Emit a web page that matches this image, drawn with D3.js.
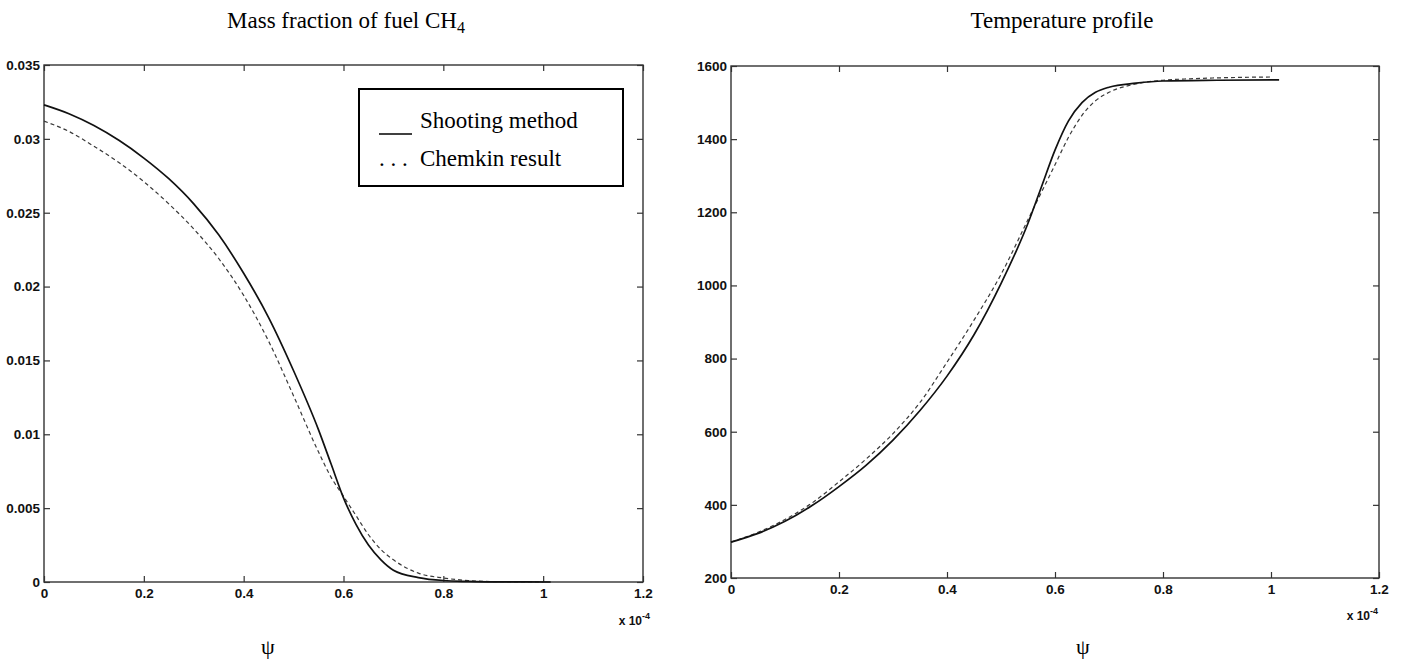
<!DOCTYPE html>
<html>
<head>
<meta charset="utf-8">
<script src="https://cdn.jsdelivr.net/npm/d3@7"></script>
<style>
  html, body { margin: 0; padding: 0; background: #fff; }
  svg { display: block; }
  .tick text { font-family: "Liberation Sans", Arial, sans-serif; font-size: 13.5px; font-weight: bold; fill: #111; }
  .tick line { stroke: #333; stroke-width: 1.2; }
  .serif { font-family: "Liberation Serif", "Times New Roman", serif; fill: #000; }
</style>
</head>
<body>
<svg id="chart" width="1408" height="665"></svg>
<script>
  // psi values are in units of 1e-4 (axis shows "x 10^-4")
  var fuelShootPsi = [0, 0.05, 0.1, 0.15, 0.2, 0.25, 0.3, 0.35, 0.4, 0.45, 0.5, 0.55, 0.575, 0.6, 0.625, 0.65, 0.675, 0.7, 0.75, 0.8, 0.85, 0.9, 1.015];
  var fuelShootY = [0.0323, 0.0317, 0.0309, 0.0299, 0.0287, 0.0273, 0.0256, 0.0235, 0.0209, 0.0179, 0.0143, 0.0103, 0.0080, 0.0057, 0.0039, 0.0025, 0.0015, 0.0008, 0.0003, 0.0001, 0.00004, 0.00001, 0];

  var fuelChemPsi = [0, 0.05, 0.1, 0.15, 0.2, 0.25, 0.3, 0.35, 0.4, 0.45, 0.5, 0.55, 0.575, 0.6, 0.625, 0.65, 0.675, 0.7, 0.75, 0.8, 0.85, 0.9, 1.0];
  var fuelChemY = [0.0312, 0.0305, 0.0295, 0.0284, 0.0271, 0.0256, 0.0239, 0.0219, 0.0194, 0.0163, 0.0126, 0.0088, 0.0071, 0.0058, 0.0045, 0.0032, 0.0022, 0.0015, 0.0006, 0.00027, 0.0001, 0.00003, 0];

  var tempShootPsi = [0, 0.05, 0.1, 0.15, 0.2, 0.25, 0.3, 0.35, 0.4, 0.45, 0.5, 0.55, 0.575, 0.6, 0.625, 0.65, 0.675, 0.7, 0.75, 0.8, 0.9, 1.015];
  var tempShootT = [298, 322, 355, 398, 450, 508, 577, 658, 752, 865, 1005, 1170, 1270, 1370, 1450, 1500, 1528, 1542, 1553, 1559, 1561, 1562];

  var tempChemPsi = [0, 0.05, 0.1, 0.15, 0.2, 0.25, 0.3, 0.35, 0.4, 0.45, 0.5, 0.55, 0.6, 0.625, 0.65, 0.675, 0.7, 0.75, 0.8, 0.85, 0.95, 1.0];
  var tempChemT = [298, 325, 360, 405, 463, 525, 595, 680, 790, 905, 1030, 1180, 1330, 1405, 1465, 1505, 1528, 1551, 1561, 1565, 1569, 1570];

  var psiTicks = [0, 0.2, 0.4, 0.6, 0.8, 1, 1.2];
  var fuelTicks = [0, 0.005, 0.01, 0.015, 0.02, 0.025, 0.03, 0.035];
  var tempTicks = [200, 400, 600, 800, 1000, 1200, 1400, 1600];

  var legendNames = ["Shooting method", "Chemkin result"];

  var svg = d3.select("#chart");

  function zip(xs, ys) {
    return xs.map(function (x, i) { return [x, ys[i]]; });
  }

  function drawPanel(opt) {
    var x = d3.scaleLinear().domain([0, 1.2]).range([opt.left, opt.right]);
    var y = d3.scaleLinear().domain(opt.yDomain).range([opt.bottom, opt.top]);
    var g = svg.append("g");

    // inward ticks on all four sides, like the matlab box
    g.append("g")
      .attr("transform", "translate(0," + opt.bottom + ")")
      .call(d3.axisBottom(x).tickValues(psiTicks).tickSizeInner(-6).tickSizeOuter(0).tickPadding(6)
        .tickFormat(function (d) { return String(+d.toFixed(1)); }))
      .call(function (a) { a.select(".domain").remove(); });

    g.append("g")
      .attr("transform", "translate(0," + opt.top + ")")
      .call(d3.axisTop(x).tickValues(psiTicks).tickSizeInner(-6).tickSizeOuter(0).tickFormat(""))
      .call(function (a) { a.select(".domain").remove(); });

    g.append("g")
      .attr("transform", "translate(" + opt.left + ",0)")
      .call(d3.axisLeft(y).tickValues(opt.yTicks).tickSizeInner(-6).tickSizeOuter(0).tickPadding(4)
        .tickFormat(opt.yFormat))
      .call(function (a) { a.select(".domain").remove(); });

    g.append("g")
      .attr("transform", "translate(" + opt.right + ",0)")
      .call(d3.axisRight(y).tickValues(opt.yTicks).tickSizeInner(-6).tickSizeOuter(0).tickFormat(""))
      .call(function (a) { a.select(".domain").remove(); });

    // frame
    g.append("rect")
      .attr("x", opt.left).attr("y", opt.top)
      .attr("width", opt.right - opt.left).attr("height", opt.bottom - opt.top)
      .attr("fill", "none").attr("stroke", "#333").attr("stroke-width", 1.4);

    var line = d3.line()
      .x(function (d) { return x(d[0]); })
      .y(function (d) { return y(d[1]); })
      .curve(d3.curveMonotoneX);

    g.append("path")
      .datum(opt.chem)
      .attr("d", line)
      .attr("fill", "none").attr("stroke", "#3a3a3a").attr("stroke-width", 1.2)
      .attr("stroke-dasharray", "4,3");

    g.append("path")
      .datum(opt.shoot)
      .attr("d", line)
      .attr("fill", "none").attr("stroke", "#111").attr("stroke-width", 1.7);

    // title
    var t = g.append("text").attr("class", "serif")
      .attr("x", opt.titleX).attr("y", 28)
      .attr("text-anchor", "middle").style("font-size", "23px");
    t.append("tspan").text(opt.title);
    if (opt.titleSub) {
      t.append("tspan").attr("dy", 5).style("font-size", "16px").text(opt.titleSub);
    }

    // x 10^-4 multiplier
    var m = g.append("text")
      .attr("x", opt.multX).attr("y", opt.multY)
      .attr("text-anchor", "end")
      .style("font-family", "'Liberation Sans', Arial, sans-serif")
      .style("font-size", "12px").style("font-weight", "bold").style("fill", "#111");
    m.append("tspan").text("x 10");
    m.append("tspan").attr("dy", -6).style("font-size", "9px").text("-4");

    // psi label
    g.append("text").attr("class", "serif")
      .attr("x", opt.psiX).attr("y", 654)
      .attr("text-anchor", "middle").style("font-size", "22px")
      .text("\u03C8");

    return { x: x, y: y, g: g };
  }

  var left = drawPanel({
    left: 44, right: 643, top: 65, bottom: 582,
    yDomain: [0, 0.035], yTicks: fuelTicks,
    yFormat: function (d) { return d === 0 ? "0" : String(+d.toFixed(3)); },
    shoot: zip(fuelShootPsi, fuelShootY),
    chem: zip(fuelChemPsi, fuelChemY),
    title: "Mass fraction of fuel CH", titleSub: "4", titleX: 346,
    multX: 650, multY: 625, psiX: 268
  });

  drawPanel({
    left: 731, right: 1379, top: 66, bottom: 578,
    yDomain: [200, 1600], yTicks: tempTicks,
    yFormat: function (d) { return String(d); },
    shoot: zip(tempShootPsi, tempShootT),
    chem: zip(tempChemPsi, tempChemT),
    title: "Temperature profile", titleX: 1062,
    multX: 1378, multY: 620, psiX: 1083
  });

  // legend in the left panel
  var leg = left.g.append("g");
  leg.append("rect")
    .attr("x", 359).attr("y", 89).attr("width", 264).attr("height", 97)
    .attr("fill", "#fff").attr("stroke", "#000").attr("stroke-width", 2);

  leg.append("line")
    .attr("x1", 379).attr("x2", 412).attr("y1", 134).attr("y2", 134)
    .attr("stroke", "#000").attr("stroke-width", 1.6);
  leg.append("text").attr("class", "serif")
    .attr("x", 379).attr("y", 166).style("font-size", "23px")
    .text(". . .");

  leg.selectAll("text.name")
    .data(legendNames)
    .enter().append("text")
    .attr("class", "serif name")
    .attr("x", 420)
    .attr("y", function (d, i) { return 128 + i * 38; })
    .style("font-size", "23px")
    .text(function (d) { return d; });
</script>
</body>
</html>
